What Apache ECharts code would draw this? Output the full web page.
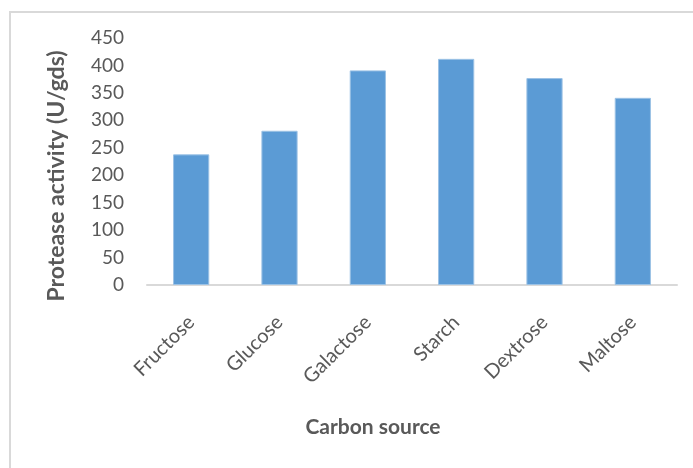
<!DOCTYPE html>
<html>
<head>
<meta charset="utf-8">
<script src="https://cdn.jsdelivr.net/npm/echarts@6/dist/echarts.min.js"></script>
<style>html,body{margin:0;padding:0;background:#fff;}#c{width:693px;height:468px;}</style>
</head>
<body>
<div id="c"></div>
<script>
const categories = ['Fructose', 'Glucose', 'Galactose', 'Starch', 'Dextrose', 'Maltose'];
const values = [238, 281, 391, 412, 377, 341];
const yTicks = [0, 50, 100, 150, 200, 250, 300, 350, 400, 450];
const yTitle = 'Protease activity (U/gds)';
const xTitle = 'Carbon source';

const chart = echarts.init(document.getElementById('c'));
chart.setOption({
  animation: false,
  backgroundColor: '#fff',
  grid: { left: 147, right: 16, top: 38, bottom: 183, containLabel: false },
  xAxis: {
    type: 'category',
    data: categories,
    axisLine: { lineStyle: { color: '#d9d9d9', width: 2 } },
    axisTick: { show: false },
    axisLabel: { rotate: 45, margin: 34, fontFamily: 'Lato', fontSize: 20, color: '#595959' }
  },
  yAxis: {
    type: 'value',
    min: yTicks[0],
    max: yTicks[yTicks.length - 1],
    interval: 50,
    axisLine: { show: false },
    axisTick: { show: false },
    splitLine: { show: false },
    axisLabel: { margin: 23, fontFamily: 'Lato', fontSize: 19, color: '#595959' }
  },
  series: [{
    type: 'bar',
    data: values,
    barWidth: '41%',
    itemStyle: { color: '#5b9bd5', borderColor: '#9cc2e5', borderWidth: 1 }
  }],
  graphic: [
    { type: 'rect', shape: { x: 10, y: 12, width: 700, height: 480 }, style: { fill: 'none', stroke: '#d9d9d9', lineWidth: 2 }, z: -1 },
    { type: 'text', x: 57, y: 176, rotation: Math.PI / 2,
      style: { text: yTitle, fontFamily: 'Lato', fontWeight: 'bold', fontSize: 23, fill: '#595959', align: 'center', verticalAlign: 'middle' } },
    { type: 'text', x: 373, y: 427,
      style: { text: xTitle, fontFamily: 'Lato', fontWeight: 'bold', fontSize: 21, fill: '#595959', align: 'center', verticalAlign: 'middle' } }
  ]
});
</script>
</body>
</html>
